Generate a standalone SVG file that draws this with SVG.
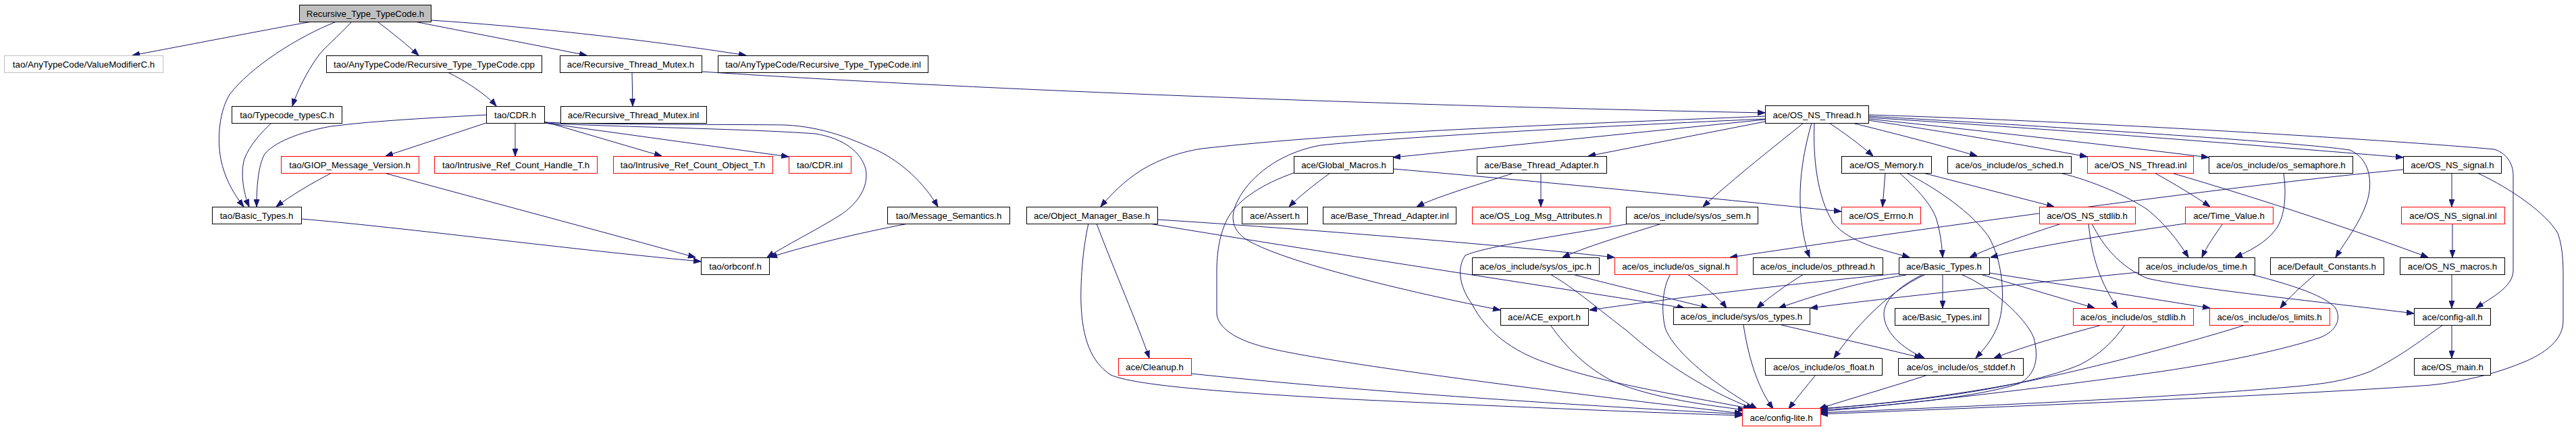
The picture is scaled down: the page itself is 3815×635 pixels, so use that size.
<svg xmlns="http://www.w3.org/2000/svg" width="3815" height="635" viewBox="0 0 3815 635">
<style>
.n rect{fill:#fff;stroke:#000;stroke-width:1}
.n.red rect{stroke:#ff0000}
.n.gray rect{stroke:#bfbfbf}
.n.root rect{fill:#bfbfbf}
.n text{font-family:"Liberation Sans",Arial,sans-serif;font-size:13.3px;fill:#000;text-anchor:middle}
.e path{fill:none;stroke:#191970;stroke-width:1;marker-end:url(#ah)}
</style>
<defs>
<marker id="ah" markerUnits="userSpaceOnUse" markerWidth="11" markerHeight="9" refX="11" refY="4.5" orient="auto">
<path d="M0,0.5 L11,4.5 L0,8.5 Z" fill="#191970" stroke="#191970" stroke-width="1"/>
</marker>
</defs>
<rect width="3815" height="635" fill="#fff"/>
<g id="edges" class="e">
<path d="M462,32 C420,39 260,70 196,82"/>
<path d="M498,32 C440,55 370,100 340,140 C322,170 322,215 328,240 C335,270 350,292 361,306"/>
<path d="M521,32 C500,55 480,70 469,86 C455,106 440,135 433,157"/>
<path d="M559,32 C580,48 605,68 620,82"/>
<path d="M614,32 C680,45 810,70 869,82"/>
<path d="M638,30 C800,40 1000,65 1105,82"/>
<path d="M402,182 C385,198 370,215 362,235 C356,255 360,285 369,306"/>
<path d="M663,107 C690,120 720,140 735,157"/>
<path d="M936,107 L937,157"/>
<path d="M1039,106 C1400,130 2000,155 2614,167"/>
<path d="M720,170 C650,174 560,178 490,187 C440,196 405,212 392,228 C382,245 380,280 380,306"/>
<path d="M720,182 L571,231"/>
<path d="M763,182 L763,231"/>
<path d="M806,180 L980,231"/>
<path d="M806,182 L1168,232"/>
<path d="M806,182 C900,188 1100,190 1208,198 C1250,205 1275,225 1282,250 C1288,280 1265,305 1245,318 C1205,343 1165,362 1136,381"/>
<path d="M806,181 C900,185 1100,184 1163,185 C1220,188 1260,205 1300,223 C1335,240 1368,270 1389,306"/>
<path d="M491,256 C460,272 430,290 409,306"/>
<path d="M569,256 C700,292 900,345 1030,381"/>
<path d="M446,324 C600,337 850,370 1038,387"/>
<path d="M1345,331 C1270,345 1190,365 1140,381"/>
<path d="M2614,172 C2300,185 2000,195 1780,220 C1740,226 1710,240 1690,252 C1665,268 1645,288 1630,306"/>
<path d="M2614,176 C2300,190 2050,205 1956,215 C1900,225 1860,255 1840,285 C1820,315 1820,340 1850,357 C1900,385 2050,425 2222,459"/>
<path d="M2614,177 L2063,233"/>
<path d="M2614,180 L2352,231"/>
<path d="M2671,182 C2630,215 2570,262 2522,306"/>
<path d="M2709,182 C2730,196 2755,214 2774,231"/>
<path d="M2743,182 C2800,196 2870,214 2928,231"/>
<path d="M2767,178 C2880,195 3000,215 3091,232"/>
<path d="M2767,176 C2950,195 3150,218 3271,233"/>
<path d="M2767,174 C3100,195 3400,220 3559,233"/>
<path d="M2767,172 C3000,185 3400,210 3480,222 C3510,235 3515,270 3505,300 C3495,330 3475,355 3459,381"/>
<path d="M2767,170 C3100,180 3550,208 3694,221 C3710,226 3722,240 3722,260 L3722,400 C3722,425 3690,440 3667,456"/>
<path d="M2683,182 C2672,220 2665,260 2666,300 C2667,330 2672,360 2680,381"/>
<path d="M2687,182 C2685,230 2690,290 2715,330 C2740,360 2790,370 2828,381"/>
<path d="M1970,256 C1948,272 1925,290 1909,306"/>
<path d="M1916,256 C1870,272 1835,295 1820,320 C1805,345 1802,380 1802,400 L1802,465 C1805,490 1840,505 1870,513 C1950,535 2300,580 2580,612"/>
<path d="M2063,250 C2300,270 2600,300 2727,313"/>
<path d="M2242,256 C2200,270 2130,290 2098,306"/>
<path d="M2282,256 L2282,306"/>
<path d="M2461,331 C2400,350 2350,365 2314,381"/>
<path d="M2414,331 C2300,350 2200,365 2170,378 C2155,400 2165,430 2180,450 C2200,490 2240,520 2290,537 C2380,570 2520,590 2593,605"/>
<path d="M2329,406 C2400,425 2480,443 2530,456"/>
<path d="M2296,406 C2330,425 2370,460 2410,490 C2460,535 2530,580 2597,605"/>
<path d="M2499,406 C2520,420 2545,440 2557,456"/>
<path d="M2474,406 C2462,425 2460,460 2466,485 C2478,520 2540,570 2602,605"/>
<path d="M2296,481 C2320,515 2350,545 2390,565 C2450,590 2530,600 2585,607"/>
<path d="M2582,481 C2588,520 2600,570 2626,605"/>
<path d="M2638,481 C2720,500 2800,518 2846,530"/>
<path d="M1714,325 C1950,340 2250,365 2391,381"/>
<path d="M1702,331 C2000,380 2300,425 2495,456"/>
<path d="M1612,331 C1603,370 1600,420 1601,450 C1603,500 1615,535 1645,555 C1680,570 1800,580 2000,591 C2300,605 2480,612 2580,615"/>
<path d="M1624,331 C1650,400 1685,480 1702,530"/>
<path d="M1764,553 C2000,578 2300,598 2580,613"/>
<path d="M2792,256 L2788,306"/>
<path d="M2813,256 C2840,280 2862,305 2868,325 C2874,345 2876,365 2877,381"/>
<path d="M2823,256 C2870,280 2920,315 2945,350 C2965,385 2968,430 2964,460 C2960,490 2945,510 2926,530"/>
<path d="M2848,256 L3042,306"/>
<path d="M3051,256 C3100,268 3150,290 3180,310 C3205,330 3225,355 3241,381"/>
<path d="M3191,256 C3220,272 3250,290 3273,306"/>
<path d="M3216,256 C3350,295 3500,345 3596,381"/>
<path d="M3382,256 C3386,285 3385,320 3370,340 C3355,360 3330,372 3310,381"/>
<path d="M3559,251 C3300,275 2800,345 2562,381"/>
<path d="M3631,256 L3631,306"/>
<path d="M3669,256 C3720,280 3770,315 3788,345 C3797,370 3796,400 3796,420 L3796,475 C3796,500 3775,520 3740,535 C3700,552 3650,565 3600,570 C3400,585 2900,605 2696,613"/>
<path d="M3632,331 L3632,381"/>
<path d="M3631,406 L3631,456"/>
<path d="M3631,481 L3631,530"/>
<path d="M3618,481 C3590,500 3560,525 3510,550 C3470,565 3440,568 3400,572 C3200,590 2900,602 2696,611"/>
<path d="M3429,406 C3410,422 3390,440 3377,456"/>
<path d="M3333,406 C3380,418 3440,435 3458,455 C3468,470 3462,490 3435,500 C3380,518 3300,535 3200,550 C3000,578 2800,600 2696,609"/>
<path d="M3167,403 C3000,420 2800,440 2681,456"/>
<path d="M3292,331 C3280,348 3268,365 3261,381"/>
<path d="M3236,331 C3100,350 3000,368 2948,381"/>
<path d="M3053,331 C3000,348 2950,365 2917,381"/>
<path d="M3093,331 C3097,370 3105,410 3136,456"/>
<path d="M3098,331 C3115,365 3140,395 3180,412 C3250,428 3450,448 3575,464"/>
<path d="M2812,405 C2650,420 2450,445 2354,459"/>
<path d="M2823,407 C2740,420 2680,440 2634,456"/>
<path d="M2877,406 L2877,456"/>
<path d="M2852,406 C2820,420 2790,445 2770,465 C2745,490 2730,510 2716,530"/>
<path d="M2848,406 C2810,425 2790,445 2790,465 C2790,490 2815,515 2850,530"/>
<path d="M2904,406 C2950,425 3000,470 3012,500 C3020,530 3015,555 2990,568 C2920,590 2780,602 2696,607"/>
<path d="M2933,406 L3102,456"/>
<path d="M2946,404 L3273,456"/>
<path d="M2671,406 C2645,422 2620,440 2602,456"/>
<path d="M3113,481 C3060,495 3000,512 2953,530"/>
<path d="M3147,481 C3130,505 3110,525 3080,540 C3020,565 2900,590 2696,605"/>
<path d="M3325,481 C3250,505 3100,545 3000,565 C2880,588 2770,600 2696,605"/>
<path d="M2855,555 C2800,573 2740,590 2694,605"/>
<path d="M2689,555 C2675,572 2662,588 2649,605"/>
</g>
<g id="nodes">
<g id="n_root" class="n root"><rect x="443.5" y="7.5" width="195" height="25"/><text x="541" y="24.5">Recursive_Type_TypeCode.h</text></g>
<g id="n_vmod" class="n gray"><rect x="6.5" y="82.5" width="235" height="25"/><text x="124" y="99.5">tao/AnyTypeCode/ValueModifierC.h</text></g>
<g id="n_cpp" class="n"><rect x="483.5" y="82.5" width="319" height="25"/><text x="643" y="99.5">tao/AnyTypeCode/Recursive_Type_TypeCode.cpp</text></g>
<g id="n_rtm" class="n"><rect x="829.5" y="82.5" width="210" height="25"/><text x="934" y="99.5">ace/Recursive_Thread_Mutex.h</text></g>
<g id="n_inl" class="n"><rect x="1063.5" y="82.5" width="311" height="25"/><text x="1219" y="99.5">tao/AnyTypeCode/Recursive_Type_TypeCode.inl</text></g>
<g id="n_tctypes" class="n"><rect x="343.5" y="157.5" width="163" height="25"/><text x="425" y="174.5">tao/Typecode_typesC.h</text></g>
<g id="n_cdr" class="n"><rect x="720.5" y="157.5" width="86" height="25"/><text x="763" y="174.5">tao/CDR.h</text></g>
<g id="n_rtminl" class="n"><rect x="830.5" y="157.5" width="216" height="25"/><text x="938" y="174.5">ace/Recursive_Thread_Mutex.inl</text></g>
<g id="n_osnsthread" class="n"><rect x="2614.5" y="156.5" width="153" height="26"/><text x="2691" y="174.5">ace/OS_NS_Thread.h</text></g>
<g id="n_giop" class="n red"><rect x="416.5" y="231.5" width="204" height="25"/><text x="518" y="248.5">tao/GIOP_Message_Version.h</text></g>
<g id="n_irchandle" class="n red"><rect x="643.5" y="231.5" width="241" height="25"/><text x="764" y="248.5">tao/Intrusive_Ref_Count_Handle_T.h</text></g>
<g id="n_ircobj" class="n red"><rect x="908.5" y="231.5" width="236" height="25"/><text x="1026" y="248.5">tao/Intrusive_Ref_Count_Object_T.h</text></g>
<g id="n_cdrinl" class="n red"><rect x="1168.5" y="231.5" width="92" height="25"/><text x="1214" y="248.5">tao/CDR.inl</text></g>
<g id="n_globalmacros" class="n"><rect x="1916.5" y="231.5" width="147" height="25"/><text x="1990" y="248.5">ace/Global_Macros.h</text></g>
<g id="n_bta" class="n"><rect x="2187.5" y="231.5" width="192" height="25"/><text x="2283" y="248.5">ace/Base_Thread_Adapter.h</text></g>
<g id="n_osmemory" class="n"><rect x="2727.5" y="231.5" width="133" height="25"/><text x="2794" y="248.5">ace/OS_Memory.h</text></g>
<g id="n_ossched" class="n"><rect x="2884.5" y="231.5" width="183" height="25"/><text x="2976" y="248.5">ace/os_include/os_sched.h</text></g>
<g id="n_osnsthreadinl" class="n red"><rect x="3091.5" y="231.5" width="157" height="25"/><text x="3170" y="248.5">ace/OS_NS_Thread.inl</text></g>
<g id="n_ossemaphore" class="n"><rect x="3271.5" y="231.5" width="213" height="25"/><text x="3378" y="248.5">ace/os_include/os_semaphore.h</text></g>
<g id="n_osnssignal" class="n"><rect x="3559.5" y="231.5" width="145" height="25"/><text x="3632" y="248.5">ace/OS_NS_signal.h</text></g>
<g id="n_taobasic" class="n"><rect x="314.5" y="306.5" width="132" height="25"/><text x="380" y="323.5">tao/Basic_Types.h</text></g>
<g id="n_msgsem" class="n"><rect x="1314.5" y="306.5" width="181" height="25"/><text x="1405" y="323.5">tao/Message_Semantics.h</text></g>
<g id="n_omb" class="n"><rect x="1520.5" y="306.5" width="194" height="25"/><text x="1617" y="323.5">ace/Object_Manager_Base.h</text></g>
<g id="n_assert" class="n"><rect x="1839.5" y="306.5" width="97" height="25"/><text x="1888" y="323.5">ace/Assert.h</text></g>
<g id="n_btainl" class="n"><rect x="1959.5" y="306.5" width="197" height="25"/><text x="2058" y="323.5">ace/Base_Thread_Adapter.inl</text></g>
<g id="n_oslogmsg" class="n red"><rect x="2180.5" y="306.5" width="204" height="25"/><text x="2282" y="323.5">ace/OS_Log_Msg_Attributes.h</text></g>
<g id="n_ossem" class="n"><rect x="2408.5" y="306.5" width="195" height="25"/><text x="2506" y="323.5">ace/os_include/sys/os_sem.h</text></g>
<g id="n_oserrno" class="n red"><rect x="2727.5" y="306.5" width="117" height="25"/><text x="2786" y="323.5">ace/OS_Errno.h</text></g>
<g id="n_osnsstdlib" class="n red"><rect x="3020.5" y="306.5" width="142" height="25"/><text x="3091" y="323.5">ace/OS_NS_stdlib.h</text></g>
<g id="n_timevalue" class="n red"><rect x="3236.5" y="306.5" width="130" height="25"/><text x="3301" y="323.5">ace/Time_Value.h</text></g>
<g id="n_osnssignalinl" class="n red"><rect x="3556.5" y="306.5" width="153" height="25"/><text x="3633" y="323.5">ace/OS_NS_signal.inl</text></g>
<g id="n_orbconf" class="n"><rect x="1038.5" y="381.5" width="101" height="25"/><text x="1089" y="398.5">tao/orbconf.h</text></g>
<g id="n_osipc" class="n"><rect x="2180.5" y="381.5" width="188" height="25"/><text x="2274" y="398.5">ace/os_include/sys/os_ipc.h</text></g>
<g id="n_ossignal" class="n red"><rect x="2391.5" y="381.5" width="181" height="25"/><text x="2482" y="398.5">ace/os_include/os_signal.h</text></g>
<g id="n_ospthread" class="n"><rect x="2596.5" y="381.5" width="192" height="25"/><text x="2692" y="398.5">ace/os_include/os_pthread.h</text></g>
<g id="n_acebasic" class="n"><rect x="2812.5" y="381.5" width="134" height="25"/><text x="2879" y="398.5">ace/Basic_Types.h</text></g>
<g id="n_ostime" class="n"><rect x="3167.5" y="381.5" width="172" height="25"/><text x="3253" y="398.5">ace/os_include/os_time.h</text></g>
<g id="n_defconst" class="n"><rect x="3362.5" y="381.5" width="168" height="25"/><text x="3446" y="398.5">ace/Default_Constants.h</text></g>
<g id="n_osnsmacros" class="n"><rect x="3554.5" y="381.5" width="155" height="25"/><text x="3632" y="398.5">ace/OS_NS_macros.h</text></g>
<g id="n_aceexport" class="n"><rect x="2222.5" y="456.5" width="130" height="25"/><text x="2287" y="473.5">ace/ACE_export.h</text></g>
<g id="n_ostypes" class="n"><rect x="2478.5" y="455.5" width="202" height="25"/><text x="2579" y="472.5">ace/os_include/sys/os_types.h</text></g>
<g id="n_basicinl" class="n"><rect x="2806.5" y="456.5" width="139" height="25"/><text x="2876" y="473.5">ace/Basic_Types.inl</text></g>
<g id="n_osstdlib" class="n red"><rect x="3070.5" y="456.5" width="178" height="25"/><text x="3159" y="473.5">ace/os_include/os_stdlib.h</text></g>
<g id="n_oslimits" class="n red"><rect x="3272.5" y="456.5" width="178" height="25"/><text x="3361" y="473.5">ace/os_include/os_limits.h</text></g>
<g id="n_configall" class="n"><rect x="3575.5" y="456.5" width="113" height="25"/><text x="3632" y="473.5">ace/config-all.h</text></g>
<g id="n_cleanup" class="n red"><rect x="1656.5" y="530.5" width="108" height="25"/><text x="1710" y="547.5">ace/Cleanup.h</text></g>
<g id="n_osfloat" class="n"><rect x="2614.5" y="530.5" width="173" height="25"/><text x="2701" y="547.5">ace/os_include/os_float.h</text></g>
<g id="n_osstddef" class="n"><rect x="2811.5" y="530.5" width="185" height="25"/><text x="2904" y="547.5">ace/os_include/os_stddef.h</text></g>
<g id="n_osmain" class="n"><rect x="3575.5" y="530.5" width="113" height="25"/><text x="3632" y="547.5">ace/OS_main.h</text></g>
<g id="n_configlite" class="n red"><rect x="2580.5" y="604.5" width="116" height="26"/><text x="2638" y="622.5">ace/config-lite.h</text></g>
</g>
</svg>
